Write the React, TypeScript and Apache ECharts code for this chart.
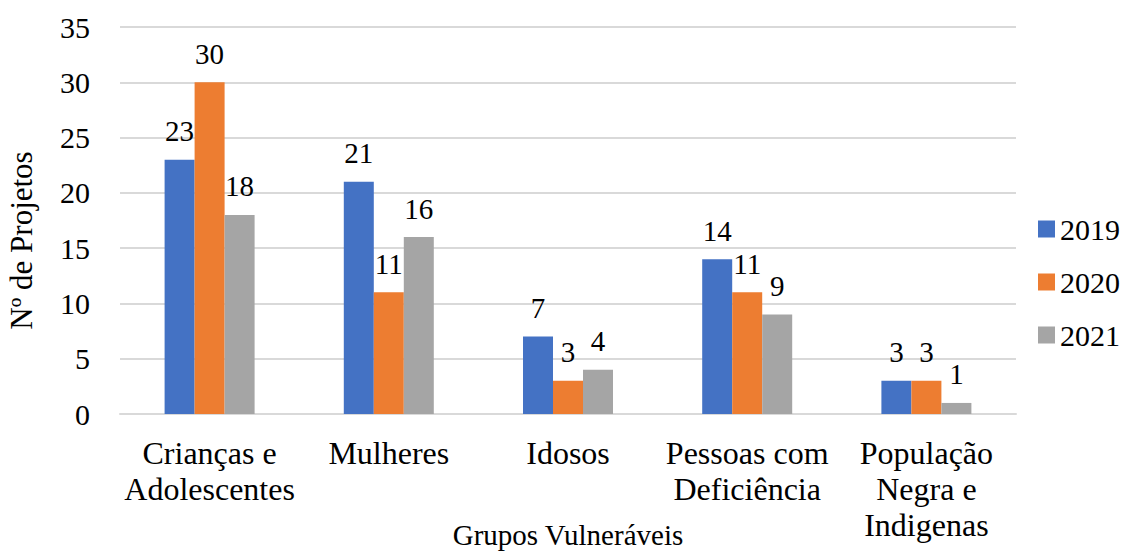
import React, { useEffect, useRef } from "react";
import * as echarts from "echarts";

const categories = [
  "Crianças e\nAdolescentes",
  "Mulheres",
  "Idosos",
  "Pessoas com\nDeficiência",
  "População\nNegra e\nIndigenas",
];
const seriesNames = ["2019", "2020", "2021"];
const values2019 = [23, 21, 7, 14, 3];
const values2020 = [30, 11, 3, 11, 3];
const values2021 = [18, 16, 4, 9, 1];
const colors = ["#4472C4", "#ED7D31", "#A5A5A5"];

const FONT = "Liberation Serif";

export default function App() {
  const ref = useRef<HTMLDivElement>(null);
  useEffect(() => {
    if (!ref.current) return;
    const chart = echarts.init(ref.current, undefined, { renderer: "svg" });
    const data = [values2019, values2020, values2021];
    chart.setOption({
      animation: false,
      textStyle: { fontFamily: FONT },
      grid: { left: 120, right: 118, top: 27, bottom: 139, outerBoundsMode: "none", containLabel: false },
      legend: {
        orient: "vertical",
        left: 1033,
        top: 209,
        itemWidth: 17,
        itemHeight: 17,
        itemGap: 23,
        itemTextGap: 7,
        icon: "rect",
        textStyle: { fontFamily: FONT, fontSize: 30, color: "#000", lineHeight: 29 },
        data: seriesNames,
      },
      xAxis: {
        type: "category",
        data: categories,
        name: "Grupos Vulneráveis",
        nameLocation: "middle",
        nameGap: 106,
        nameMoveOverlap: false,
        nameTextStyle: { fontFamily: FONT, fontSize: 29, color: "#000" },
        axisLine: { lineStyle: { color: "#D9D9D9", width: 2 } },
        axisTick: { show: false },
        axisLabel: {
          fontFamily: FONT,
          fontSize: 32,
          color: "#000",
          lineHeight: 36,
          margin: 21,
          interval: 0,
          verticalAlign: "top",
        },
      },
      yAxis: {
        type: "value",
        min: 0,
        max: 35,
        interval: 5,
        name: "Nº de Projetos",
        nameLocation: "middle",
        nameGap: 83,
        nameMoveOverlap: false,
        nameTextStyle: { fontFamily: FONT, fontSize: 31, color: "#000", padding: [0, 40, 0, 0] },
        axisLine: { show: false },
        axisTick: { show: false },
        axisLabel: { fontFamily: FONT, fontSize: 30, color: "#000", margin: 30 },
        splitLine: { lineStyle: { color: "#D9D9D9", width: 2 } },
      },
      series: seriesNames.map((name, i) => ({
        name,
        type: "bar",
        data: data[i],
        barWidth: 30,
        barGap: "0%",
        itemStyle: { color: colors[i] },
        label: {
          show: true,
          position: "top",
          distance: 14,
          fontFamily: FONT,
          fontSize: 29,
          color: "#000",
        },
      })),
    });
    return () => chart.dispose();
  }, []);
  return <div ref={ref} style={{ width: 1134, height: 553, position: "absolute", left: 0, top: 0, background: "#fff" }} />;
}
